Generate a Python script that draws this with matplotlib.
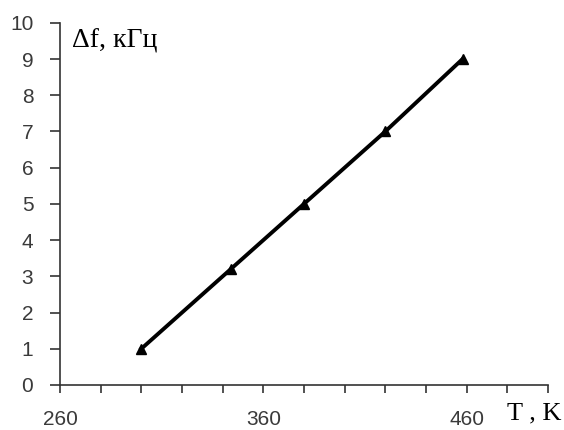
import matplotlib
matplotlib.use("Agg")
import matplotlib.pyplot as plt

T = [300, 344, 380, 420, 458]
df = [1.0, 3.2, 5.0, 7.0, 9.0]
x_ticks = list(range(260, 501, 20))
x_labels = ["260" if t == 260 else "360" if t == 360 else "460" if t == 460 else "" for t in x_ticks]
y_ticks = list(range(0, 11))

fig = plt.figure(figsize=(5.64, 4.30), dpi=100)
ax = fig.add_axes([0.1064, 0.1047, 0.8652, 0.8423])
ax.plot(T, df, color="black", lw=2.8, marker="^", ms=7, mfc="black", mec="black")
ax.set_xlim(260, 500)
ax.set_ylim(0, 10)
ax.set_xticks(x_ticks)
ax.set_xticklabels(x_labels)
ax.set_yticks(y_ticks)
for s in ["top", "right"]:
    ax.spines[s].set_visible(False)
for s in ["left", "bottom"]:
    ax.spines[s].set_color("#333333")
    ax.spines[s].set_linewidth(1.2)
ax.tick_params(axis="x", direction="out", length=5.8, width=1.2, color="#333333",
               pad=12, labelsize=15, labelcolor="#3a3a3a")
ax.tick_params(axis="y", direction="out", length=7.2, width=1.2, color="#333333",
               pad=12, labelsize=15, labelcolor="#3a3a3a")
for lab in ax.get_xticklabels() + ax.get_yticklabels():
    lab.set_fontfamily("Liberation Sans")

fig.text(72 / 564, 1 - 41 / 430, "Δf, кГц", fontsize=20, family="Liberation Serif",
         ha="left", va="center", color="black")
fig.text(507 / 564, 1 - 413 / 430, "T , K", fontsize=19, family="Liberation Serif",
         ha="left", va="center", color="black")

fig.savefig("out.png", dpi=100)
